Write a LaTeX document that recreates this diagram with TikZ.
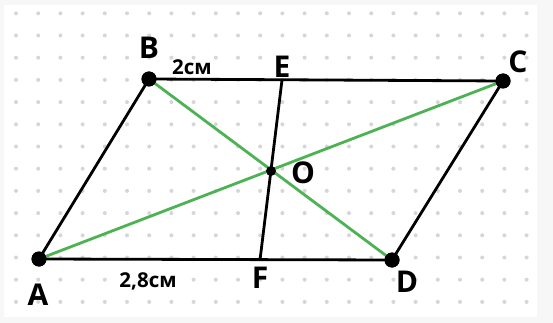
\documentclass[tikz,border=0pt]{standalone}
\usepackage{fontspec}
\setmainfont{Open Sans}
\usepackage{xcolor}
\definecolor{diaggreen}{RGB}{76,178,84}
\definecolor{griddot}{RGB}{214,214,218}

\begin{document}
\begin{tikzpicture}[
  x=1pt, y=-1pt,
  vertex/.style={circle, fill=black, inner sep=0pt, minimum size=15pt},
  midpt/.style={circle, fill=black, inner sep=0pt, minimum size=10pt},
  lbl/.style={font=\bfseries\fontsize{30}{32}\selectfont, inner sep=0pt},
  meas/.style={font=\bfseries\fontsize{20.5}{22}\selectfont, inner sep=0pt, text depth=0pt},
  side/.style={draw=black, line width=2.8pt},
  diag/.style={draw=diaggreen, line width=2.8pt}
]
\useasboundingbox (0,0) rectangle (553,323);
\fill[black!3] (0,0) rectangle (553,323);
\fill[white] (4,5) rectangle (537,317);

% dotted grid paper
\foreach \i in {0,...,23}
  \foreach \j in {0,...,13}
    \fill[griddot] (16+22.2*\i, 13.3+22.2*\j) circle (2pt);

% points
\node[vertex] (A) at (39,259) {};
\node[vertex] (B) at (149,79) {};
\node[vertex] (C) at (503,81) {};
\node[vertex] (D) at (392,260) {};
\coordinate (E) at (282,80);
\coordinate (F) at (260,260);

% diagonals
\draw[diag] (A.center) -- (C.center);
\draw[diag] (B.center) -- (D.center);

% sides
\draw[side] (A.center) -- (B.center) -- (C.center) -- (D.center) -- cycle;
\draw[side] (E) -- (F);

\node[midpt] (O) at (271,171) {};
\node[vertex] at (A) {};
\node[vertex] at (B) {};
\node[vertex] at (C) {};
\node[vertex] at (D) {};

% labels
\node[lbl] (lA) at (38,295) {A};
\node[lbl] (lB) at (149,48) {B};
\node[lbl] (lC) at (518,62) {C};
\node[lbl] (lD) at (407,282) {D};
\node[lbl] (lE) at (282,67) {E};
\node[lbl] (lF) at (260,278) {F};
\node[lbl] (lO) at (303,173) {O};
\node[meas] (bc) at (192,67) {2см};
\node[meas] (af) at (148,280) {2,8см};
\end{tikzpicture}
\end{document}
